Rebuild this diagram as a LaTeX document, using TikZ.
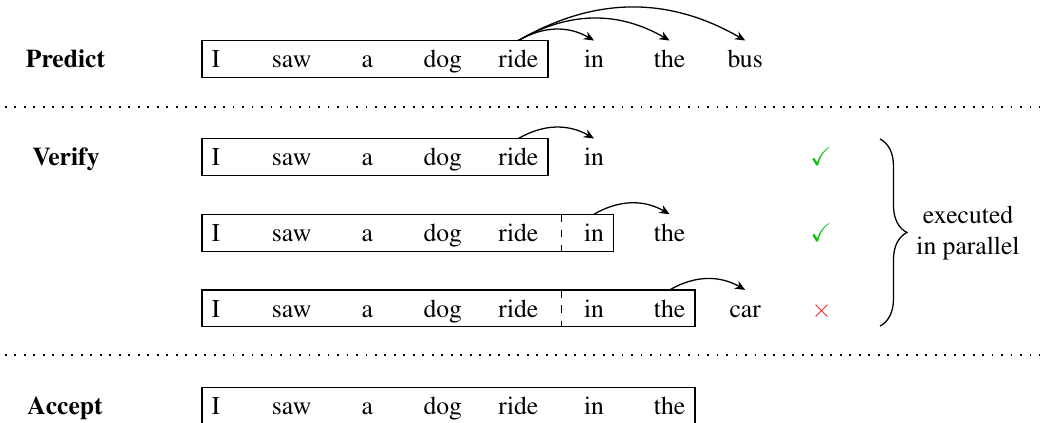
\documentclass[tikz,border=0pt]{standalone}
\usepackage[T1]{fontenc}
\usepackage{mathptmx}
\usepackage{amssymb}
\usetikzlibrary{arrows.meta,decorations.pathreplacing,calc}
\definecolor{okgreen}{RGB}{20,190,20}
\definecolor{badred}{RGB}{235,40,40}
\begin{document}
\begin{tikzpicture}[x=0.39pt,y=-0.39pt,
  word/.style={anchor=base,inner xsep=3.6pt,inner ysep=0pt,text height=10.4pt,text depth=3.6pt},
  lab/.style={anchor=base,font=\bfseries},
  seq/.style={draw,line width=0.5pt},
  arr/.style={-{Stealth[length=4pt,width=3.4pt]},line width=0.5pt},
  sep/.style={line width=0.7pt,dash pattern=on 0.7pt off 3pt},
  verdict/.style={anchor=center}
]
\useasboundingbox (0,0) rectangle (1040,423);

% separators
\coordinate (s1a) at (5,107); \coordinate (s1b) at (1040,107);
\coordinate (s2a) at (5,355); \coordinate (s2b) at (1040,355);
\draw[sep] (s1a) -- (s1b);
\draw[sep] (s2a) -- (s2b);

% Predict
\node[lab] (lp) at (65.5,67.7) {Predict};
\foreach \w [count=\i from 0] in {I,saw,a,dog,ride,in,the,bus}
  \node[word] (p\i) at (216+75.6*\i,67.7) {\w};
\draw[seq] (p0.north west) rectangle (p4.south east);
\draw[arr] (p4.north) to[bend left=30] (p5.north);
\draw[arr] (p4.north) to[bend left=30] (p6.north);
\draw[arr] (p4.north) to[bend left=30] (p7.north);

% Verify row 1
\node[lab] (lv) at (66,165.7) {Verify};
\foreach \w [count=\i from 0] in {I,saw,a,dog,ride,in}
  \node[word] (v\i) at (216+75.6*\i,165.7) {\w};
\draw[seq] (v0.north west) rectangle (v4.south east);
\draw[arr] (v4.north) to[bend left=30] (v5.north);
\node[verdict,text=okgreen] (c1) at (821,157) {$\checkmark$};

% Verify row 2
\foreach \w [count=\i from 0] in {I,saw,a,dog,ride,in,the}
  \node[word] (w\i) at (216+75.6*\i,241.4) {\w};
\draw[seq] (w0.north west) rectangle (w5.south east);
\draw[dashed,line width=0.5pt] ($(w4.north east)!0.5!(w5.north west)$) -- ($(w4.south east)!0.5!(w5.south west)$);
\draw[arr] (w5.north) to[bend left=30] (w6.north);
\node[verdict,text=okgreen] (c2) at (821,233) {$\checkmark$};

% Verify row 3
\foreach \w [count=\i from 0] in {I,saw,a,dog,ride,in,the,car}
  \node[word] (x\i) at (216+75.6*\i,317.1) {\w};
\draw[seq] (x0.north west) rectangle (x6.south east);
\draw[dashed,line width=0.5pt] ($(x4.north east)!0.5!(x5.north west)$) -- ($(x4.south east)!0.5!(x5.south west)$);
\draw[arr] (x6.north) to[bend left=30] (x7.north);
\node[verdict,text=badred] (c3) at (821.5,311) {$\times$};

% brace
\coordinate (bt) at (880,139);
\coordinate (bb) at (880,326);
\draw[decorate,decoration={brace,amplitude=10.5pt},line width=0.5pt] (bt) -- (bb);
\node[align=center,anchor=center] (ex) at (968,233) {executed\\in parallel};

% Accept
\node[lab] (la) at (65,414.7) {Accept};
\foreach \w [count=\i from 0] in {I,saw,a,dog,ride,in,the}
  \node[word] (a\i) at (216+75.6*\i,414.7) {\w};
\draw[seq] (a0.north west) rectangle (a6.south east);
\end{tikzpicture}
\end{document}
